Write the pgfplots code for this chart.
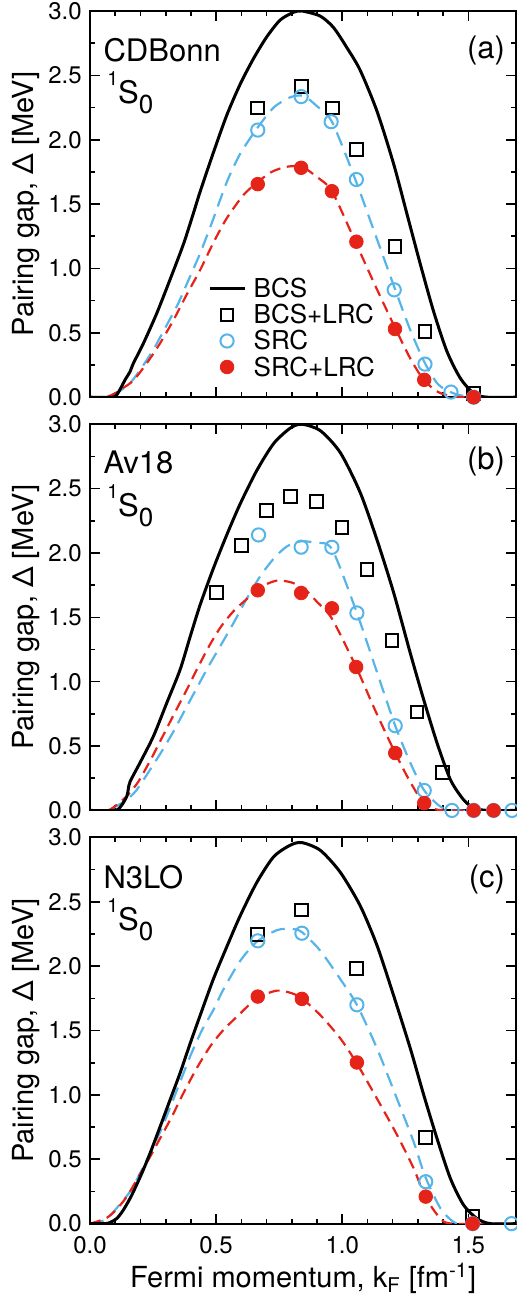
\documentclass[border=0pt]{standalone}
\usepackage{fontspec}
\setmainfont{TeX Gyre Heros}
\usepackage{pgfplots}
\pgfplotsset{compat=1.18}
\definecolor{sky}{RGB}{86,180,233}
\definecolor{rd}{RGB}{230,35,25}
\pgfplotsset{
  panel/.style={
    width=213pt, height=193pt, scale only axis,
    xmin=0, xmax=1.69, ymin=0, ymax=3.0,
    xtick={0,0.5,1.0,1.5}, ytick={0,0.5,1.0,1.5,2.0,2.5,3.0},
    minor x tick num=4, minor y tick num=1,
    tick align=inside, xtick pos=both, ytick pos=both,
    major tick length=5pt, minor tick length=2.5pt,
    axis line style={line width=1pt},
    major tick style={line width=0.8pt, black},
    minor tick style={line width=0.8pt, black},
    tick label style={font=\fontsize{12}{14}\selectfont},
    /pgf/number format/.cd, fixed, fixed zerofill, precision=1, assume math mode=true, /pgfplots/.cd,
    yticklabel style={anchor=east, inner sep=0pt, xshift=-4pt},
    xticklabel style={anchor=base, inner sep=0pt, yshift=-14.8pt},
    ylabel={Pairing gap, Δ [MeV]},
    ylabel style={at={(axis description cs:-0.1338,0.5)}, anchor=base, font=\fontsize{14.5}{16}\selectfont},
    xlabel style={at={(axis description cs:0.5,-0.1658)}, anchor=base, font=\fontsize{14.5}{16}\selectfont},
    bcs/.style={black, line width=1.5pt, no markers, smooth, tension=0.45},
    sqr/.style={only marks, mark=square, mark size=3.2pt, mark options={black, line width=1pt}},
    circ/.style={only marks, mark=o, mark size=3.3pt, mark options={sky, line width=1pt}},
    fil/.style={only marks, mark=*, mark size=3.4pt, mark options={rd, fill=rd, draw=rd}},
    bdash/.style={sky, line width=1.1pt, dash pattern=on 7pt off 4pt, no markers, forget plot, smooth, tension=0.45},
    rdash/.style={rd, line width=1.1pt, dash pattern=on 5.5pt off 3.3pt, no markers, forget plot, smooth, tension=0.45},
  },
}
\tikzset{ptext/.style={anchor=base west, inner sep=0pt, font=\fontsize{15.5}{17}\selectfont}}
\newcommand{\sso}{\raisebox{9pt}{\fontsize{9.8}{10}\selectfont 1}S\raisebox{-5pt}{\fontsize{13}{13}\selectfont 0}}
\begin{document}
\begin{tikzpicture}
% ---------------- panel (a)
\begin{axis}[panel, at={(0,413pt)}, xticklabels={},
  legend style={draw=none, fill=none, at={(axis cs:0.468,0.945)}, anchor=north west,
    inner xsep=0pt, inner ysep=0pt, row sep=0pt, column sep=0pt,
    nodes={inner xsep=4pt, inner ysep=0pt, text height=11pt, text depth=2pt},
    font=\fontsize{13}{14}\selectfont},
  legend cell align=left]
\addplot[bdash] coordinates {(0,0) (0.06,0) (0.10,0.03) (0.12,0.05) (0.159,0.11) (0.198,0.21) (0.251,0.37) (0.304,0.56) (0.35,0.73) (0.397,0.94) (0.437,1.12) (0.483,1.355) (0.542,1.67) (0.595,1.89) (0.661,2.085) (0.728,2.25) (0.794,2.33) (0.847,2.34) (0.90,2.26) (0.959,2.14) (1.052,1.69) (1.131,1.264) (1.21,0.836) (1.27,0.52) (1.329,0.26) (1.38,0.10) (1.435,0.035) (1.48,0.01) (1.52,0)};
\addplot[rdash] coordinates {(0,0) (0.06,0) (0.10,0.03) (0.13,0.07) (0.172,0.13) (0.225,0.264) (0.278,0.42) (0.331,0.60) (0.384,0.80) (0.437,0.99) (0.489,1.20) (0.542,1.39) (0.608,1.57) (0.661,1.665) (0.72,1.75) (0.78,1.79) (0.84,1.79) (0.90,1.71) (0.959,1.60) (1.052,1.207) (1.13,0.87) (1.21,0.537) (1.27,0.30) (1.323,0.135) (1.38,0.04) (1.44,0.005) (1.5,0) (1.69,0)};
\addplot[bcs] coordinates {(0,0) (0.09,0) (0.11,0.03) (0.139,0.135) (0.159,0.20) (0.172,0.264) (0.212,0.42) (0.265,0.654) (0.317,0.913) (0.370,1.187) (0.41,1.43) (0.437,1.60) (0.489,1.90) (0.542,2.19) (0.595,2.43) (0.648,2.63) (0.701,2.80) (0.754,2.93) (0.807,2.99) (0.84,3.0) (0.913,2.96) (0.966,2.87) (1.02,2.71) (1.071,2.54) (1.138,2.22) (1.204,1.81) (1.257,1.42) (1.310,1.03) (1.362,0.667) (1.415,0.356) (1.468,0.148) (1.521,0.03) (1.574,0) (1.69,0)};
\addlegendentry{BCS}
\addplot[sqr] coordinates {(0.665,2.247) (0.837,2.416) (0.962,2.247) (1.056,1.927) (1.209,1.169) (1.328,0.511) (1.521,0.03)};
\addlegendentry{BCS+LRC}
\addplot[circ] coordinates {(0.665,2.075) (0.837,2.335) (0.956,2.14) (1.056,1.691) (1.206,0.834) (1.328,0.257) (1.431,0.04) (1.521,0.0)};
\addlegendentry{SRC}
\addplot[fil] coordinates {(0.665,1.655) (0.837,1.782) (0.959,1.600) (1.056,1.208) (1.209,0.530) (1.325,0.135) (1.521,0.0)};
\addlegendentry{SRC+LRC}
\node[ptext] at (axis cs:0.052,2.61) {CDBonn};
\node[ptext] at (axis cs:0.067,2.285) {\sso};
\node[ptext, anchor=base east] at (axis cs:1.647,2.63) {(a)};
\end{axis}
% ---------------- panel (b)
\begin{axis}[panel, at={(0,206.5pt)}, xticklabels={}]
\addplot[bdash] coordinates {(0,0) (0.07,0) (0.11,0.04) (0.15,0.09) (0.185,0.16) (0.238,0.316) (0.284,0.458) (0.331,0.614) (0.377,0.783) (0.423,0.95) (0.47,1.12) (0.516,1.275) (0.569,1.456) (0.62,1.64) (0.675,1.82) (0.73,1.96) (0.78,2.05) (0.835,2.09) (0.89,2.08) (0.959,2.03) (1.058,1.534) (1.135,1.09) (1.21,0.658) (1.27,0.37) (1.325,0.155) (1.389,0.03) (1.44,0) (1.69,0)};
\addplot[rdash] coordinates {(0,0) (0.07,0) (0.11,0.05) (0.15,0.12) (0.192,0.225) (0.242,0.40) (0.284,0.56) (0.331,0.74) (0.384,0.94) (0.43,1.12) (0.476,1.29) (0.52,1.43) (0.57,1.55) (0.62,1.64) (0.67,1.73) (0.74,1.785) (0.80,1.77) (0.85,1.72) (0.90,1.62) (0.959,1.49) (1.055,1.114) (1.13,0.78) (1.21,0.446) (1.27,0.22) (1.325,0.057) (1.4,0) (1.69,0)};
\addplot[bcs] coordinates {(0,0) (0.1,0) (0.125,0.04) (0.146,0.11) (0.152,0.17) (0.159,0.225) (0.198,0.37) (0.251,0.575) (0.304,0.834) (0.357,1.093) (0.397,1.35) (0.437,1.60) (0.489,1.88) (0.542,2.14) (0.595,2.38) (0.661,2.64) (0.728,2.85) (0.794,2.97) (0.84,3.0) (0.913,2.95) (0.992,2.78) (1.071,2.47) (1.138,2.10) (1.204,1.69) (1.27,1.22) (1.323,0.86) (1.376,0.523) (1.429,0.238) (1.481,0.083) (1.521,0.02) (1.574,0) (1.69,0)};
\addplot[sqr] coordinates {(0.5,1.694) (0.602,2.057) (0.701,2.332) (0.794,2.44) (0.897,2.40) (0.999,2.20) (1.098,1.87) (1.197,1.32) (1.296,0.764) (1.399,0.295)};
\addplot[circ] coordinates {(0.668,2.14) (0.837,2.045) (0.959,2.044) (1.058,1.534) (1.21,0.658) (1.325,0.155) (1.435,0.0) (1.521,0.0) (1.6,0.0) (1.673,0.0)};
\addplot[fil] coordinates {(0.665,1.71) (0.837,1.689) (0.959,1.57) (1.055,1.114) (1.21,0.446) (1.325,0.057) (1.521,0.0) (1.6,0.0)};
\node[ptext] at (axis cs:0.052,2.62) {Av18};
\node[ptext] at (axis cs:0.067,2.285) {\sso};
\node[ptext, anchor=base east] at (axis cs:1.647,2.65) {(b)};
\end{axis}
% ---------------- panel (c)
\begin{axis}[panel, at={(0,0)}, xlabel={Fermi momentum, k\textsubscript{F} [fm\textsuperscript{-1}]}]
\addplot[bdash] coordinates {(0,0) (0.03,0.005) (0.066,0.04) (0.099,0.106) (0.159,0.25) (0.198,0.39) (0.238,0.547) (0.284,0.74) (0.324,0.935) (0.357,1.10) (0.397,1.30) (0.443,1.50) (0.489,1.66) (0.529,1.82) (0.595,2.04) (0.661,2.19) (0.741,2.28) (0.80,2.29) (0.84,2.265) (0.913,2.12) (0.992,1.90) (1.058,1.70) (1.138,1.36) (1.217,0.97) (1.283,0.636) (1.329,0.365) (1.389,0.12) (1.44,0.015) (1.48,0) (1.69,0)};
\addplot[rdash] coordinates {(0,0) (0.026,0.015) (0.066,0.045) (0.10,0.10) (0.146,0.21) (0.185,0.34) (0.231,0.495) (0.278,0.663) (0.324,0.83) (0.37,1.013) (0.423,1.207) (0.476,1.376) (0.529,1.505) (0.589,1.62) (0.661,1.75) (0.74,1.81) (0.80,1.79) (0.84,1.75) (0.913,1.62) (0.992,1.44) (1.058,1.244) (1.138,0.97) (1.217,0.69) (1.283,0.43) (1.329,0.21) (1.389,0.04) (1.44,0) (1.69,0)};
\addplot[bcs] coordinates {(0,0) (0.06,0) (0.08,0.01) (0.106,0.04) (0.132,0.106) (0.165,0.22) (0.205,0.39) (0.238,0.547) (0.278,0.754) (0.317,0.96) (0.357,1.17) (0.397,1.40) (0.437,1.62) (0.489,1.90) (0.542,2.15) (0.595,2.39) (0.661,2.65) (0.728,2.85) (0.794,2.94) (0.84,2.96) (0.913,2.90) (0.992,2.73) (1.071,2.47) (1.138,2.16) (1.204,1.77) (1.27,1.36) (1.323,1.0) (1.376,0.66) (1.429,0.35) (1.481,0.145) (1.534,0.04) (1.587,0) (1.69,0)};
\addplot[sqr] coordinates {(0.665,2.249) (0.84,2.437) (1.056,1.984) (1.331,0.668) (1.517,0.054)};
\addplot[circ] coordinates {(0.665,2.197) (0.84,2.256) (1.058,1.70) (1.331,0.326) (1.517,0.0) (1.671,0.0)};
\addplot[fil] coordinates {(0.665,1.764) (0.84,1.746) (1.058,1.252) (1.331,0.21) (1.517,0.0)};
\node[ptext] at (axis cs:0.052,2.606) {N3LO};
\node[ptext] at (axis cs:0.067,2.28) {\sso};
\node[ptext, anchor=base east] at (axis cs:1.647,2.61) {(c)};
\end{axis}
\pgfresetboundingbox
\path (-45pt,-38.15pt) rectangle (213pt,611.5pt);
\end{tikzpicture}
\end{document}
